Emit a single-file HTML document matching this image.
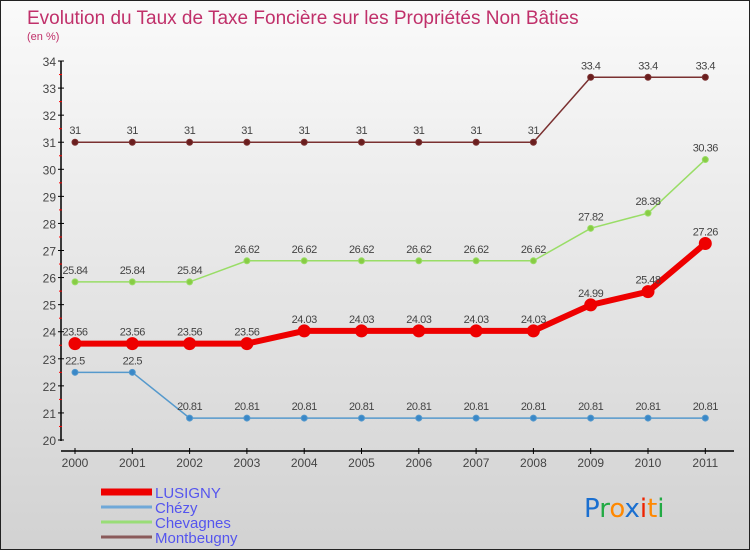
<!DOCTYPE html>
<html><head><meta charset="utf-8"><style>
body{margin:0;width:750px;height:550px;overflow:hidden;font-family:"Liberation Sans",sans-serif}
#wrap{position:relative;width:748px;height:548px;border:1px solid #222;background:linear-gradient(#fafafa,#d2d2d2)}
</style></head><body>
<div id="wrap">
<svg id="chart" width="748" height="548" style="position:absolute;left:0;top:0"></svg>
</div>
<script>
const years=["2000","2001","2002","2003","2004","2005","2006","2007","2008","2009","2010","2011"];
const lusigny=[23.56,23.56,23.56,23.56,24.03,24.03,24.03,24.03,24.03,24.99,25.48,27.26];
const chezy=[22.5,22.5,20.81,20.81,20.81,20.81,20.81,20.81,20.81,20.81,20.81,20.81];
const chevagnes=[25.84,25.84,25.84,26.62,26.62,26.62,26.62,26.62,26.62,27.82,28.38,30.36];
const montbeugny=[31,31,31,31,31,31,31,31,31,33.4,33.4,33.4];
const yTicks=[20,21,22,23,24,25,26,27,28,29,30,31,32,33,34];
const NS="http://www.w3.org/2000/svg";
const svg=document.getElementById('chart');
function x(i){return 74+i*57.3;}
function y(v){return 439-(v-20)*27.07;}
function mk(t,a,p){const e=document.createElementNS(NS,t);for(const k in a)e.setAttribute(k,a[k]);(p||svg).appendChild(e);return e;}
function txt(s,a){const e=mk('text',a);e.textContent=s;return e;}
const title=txt("Evolution du Taux de Taxe Foncière sur les Propriétés Non Bâties",{x:26,y:23,'font-size':19,fill:'#c0306a'});


const unit=txt("(en %)",{x:26,y:39,'font-size':11,fill:'#c0306a'});


const ya=mk('line',{x1:60,y1:60,x2:60,y2:440,stroke:'#000','stroke-width':1.5});


yTicks.forEach(v=>{
 mk('line',{x1:57,x2:63,y1:y(v),y2:y(v),stroke:'#000'});
 if(v<34)mk('line',{x1:58,x2:61,y1:y(v+0.5),y2:y(v+0.5),stroke:'red'});
 const t=txt(String(v),{x:55,y:y(v)+5,'font-size':12,fill:'#444','text-anchor':'end'});
 
 
});
const xa=mk('line',{x1:60,y1:450,x2:733,y2:450,stroke:'#000','stroke-width':1.5});


years.forEach((yr,i)=>{
 mk('line',{x1:x(i),x2:x(i),y1:447,y2:453,stroke:'#000'});
 const t=txt(yr,{x:x(i),y:466,'font-size':12,fill:'#444','text-anchor':'middle'});
 
 
});
function fmt(v){return String(v).replace('.','');}
function series(name,data,color,dot,w,r,labfmt){
 const g=mk('g',{});
 
 
 mk('polyline',{points:data.map((v,i)=>x(i)+','+y(v)).join(' '),fill:'none',stroke:color,'stroke-width':w},g);
 data.forEach((v,i)=>{
  const c=mk('circle',{cx:x(i),cy:y(v),r:r,fill:dot,stroke:color,'stroke-width':1},g);
  
  
  const t=mk('text',{x:x(i),y:y(v)-8,'font-size':11,fill:'#444','text-anchor':'middle','letter-spacing':'-0.5'},g);
  t.textContent=labfmt(v);
 });
}
series('montbeugny',montbeugny,'#7a3030','#6a1e1e',1.5,3,v=>String(v));
series('chevagnes',chevagnes,'#99dd66','#88cc44',1.5,3,v=>String(v));
series('chezy',chezy,'#5599cc','#3a88c8',1.5,3,v=>v===20.81?'20.81':String(v));
series('lusigny',lusigny,'#ee0000','#ee0000',6,6,v=>String(v));
const leg=[["LUSIGNY","#ee0000",7],["Chézy","#6fa8d8",3],["Chevagnes","#99dd77",3],["Montbeugny","#8a5a5a",3]];
leg.forEach((l,i)=>{
 const yy=491+i*15;
 const ln=mk('line',{x1:100,x2:151,y1:yy,y2:yy,stroke:l[1],'stroke-width':l[2]});
 
 
 const t=txt(l[0],{x:154,y:yy+6,'font-size':15,fill:'#5555ee'});
 
 
});
const logo=mk('text',{x:583,y:516,'font-size':26,'font-family':'DejaVu Sans, sans-serif'});


[["P","#1a6fd0"],["r","#22aa44"],["o","#ff8800"],["x","#1a6fd0"],["i","#ee2200"],["t","#ff8800"],["i","#22aa44"]].forEach(p=>{const s=mk('tspan',{fill:p[1]},logo);s.textContent=p[0];});
</script>
</body></html>
